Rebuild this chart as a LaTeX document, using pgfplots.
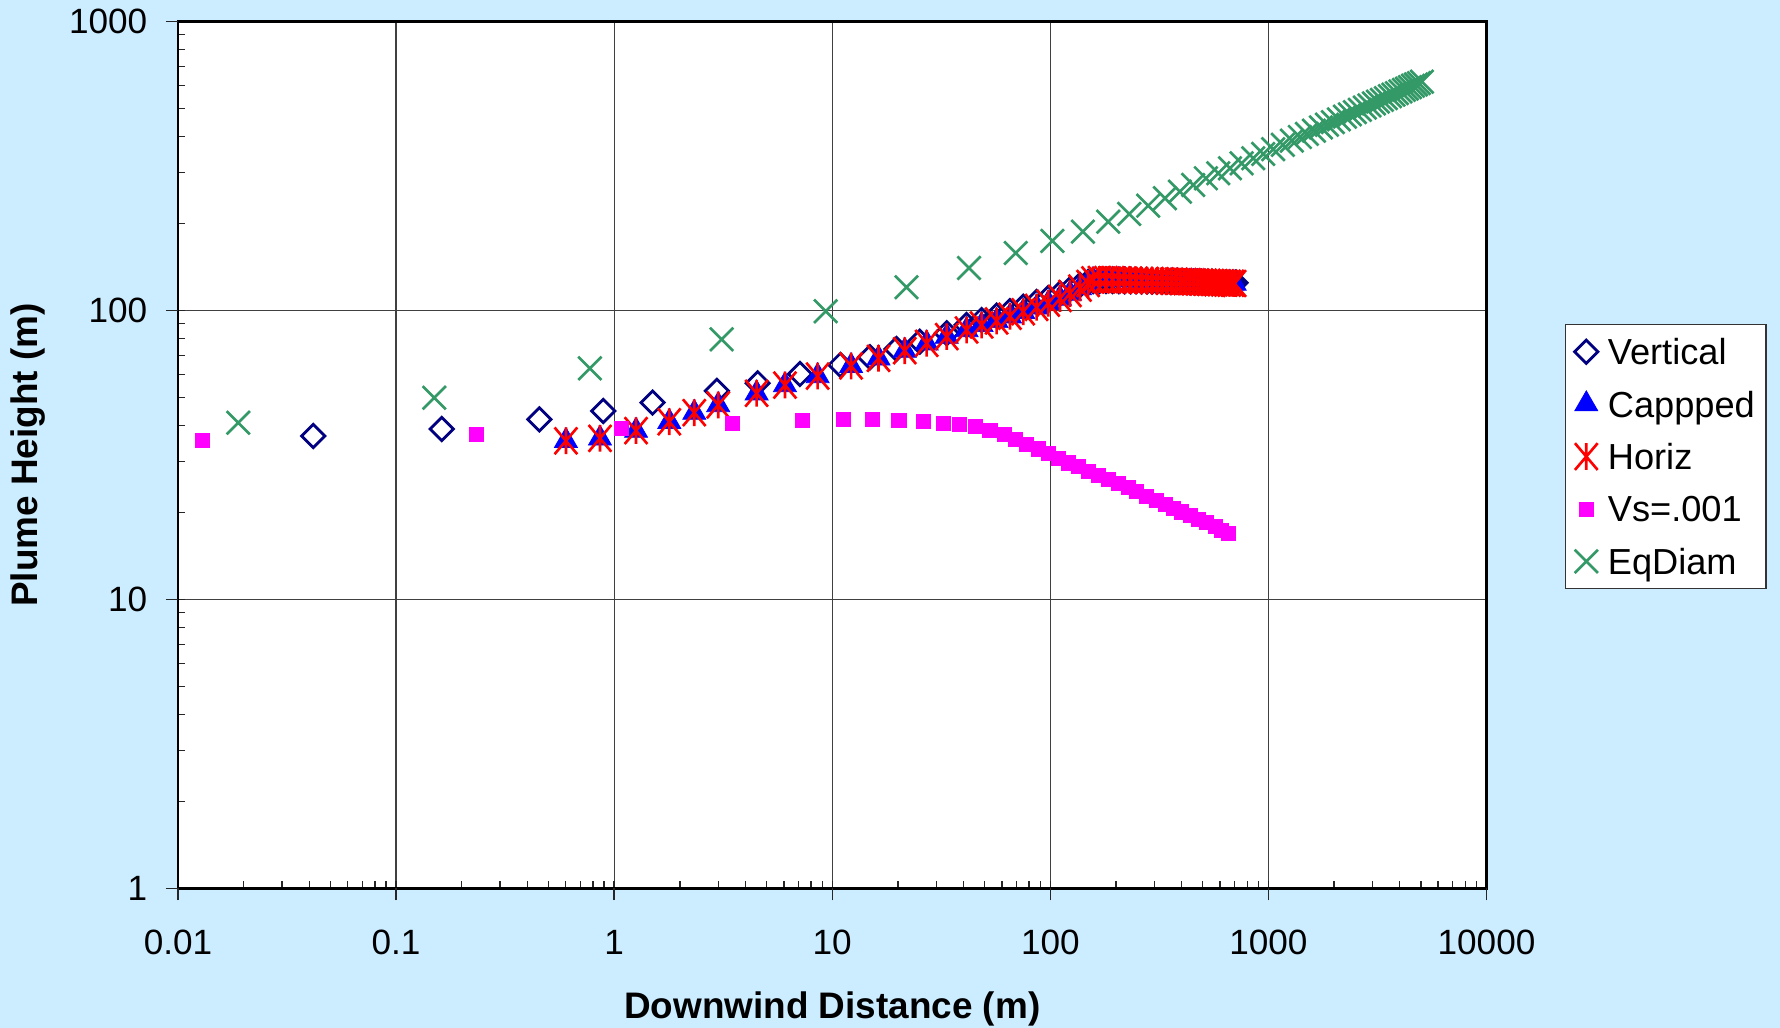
\documentclass[border=0pt]{standalone}
\usepackage{pgfplots}
\pgfplotsset{compat=1.18}
\usepackage{pgfplotstable}
\usepackage{fontspec}
\setmainfont{Liberation Sans}
\setsansfont{Liberation Sans}

\definecolor{bgblue}{HTML}{CCECFF}
\definecolor{vnavy}{HTML}{000080}
\definecolor{cblue}{HTML}{0000FF}
\definecolor{hred}{HTML}{FF0000}
\definecolor{vsmag}{HTML}{FF00FF}
\definecolor{eqgreen}{HTML}{339966}

% Excel-like markers
\pgfdeclareplotmark{xldiamond}{%
  \pgfpathmoveto{\pgfqpoint{0pt}{\pgfplotmarksize}}%
  \pgfpathlineto{\pgfqpoint{\pgfplotmarksize}{0pt}}%
  \pgfpathlineto{\pgfqpoint{0pt}{-\pgfplotmarksize}}%
  \pgfpathlineto{\pgfqpoint{-\pgfplotmarksize}{0pt}}%
  \pgfpathclose
  \pgfusepathqstroke}
\pgfdeclareplotmark{xlstar}{%
  \pgfpathmoveto{\pgfqpoint{0pt}{\pgfplotmarksize}}%
  \pgfpathlineto{\pgfqpoint{0pt}{-\pgfplotmarksize}}%
  \pgfpathmoveto{\pgfqpoint{-.85\pgfplotmarksize}{\pgfplotmarksize}}%
  \pgfpathlineto{\pgfqpoint{.85\pgfplotmarksize}{-\pgfplotmarksize}}%
  \pgfpathmoveto{\pgfqpoint{-.85\pgfplotmarksize}{-\pgfplotmarksize}}%
  \pgfpathlineto{\pgfqpoint{.85\pgfplotmarksize}{\pgfplotmarksize}}%
  \pgfusepathqstroke}
\pgfdeclareplotmark{xlx}{%
  \pgfpathmoveto{\pgfqpoint{-\pgfplotmarksize}{-\pgfplotmarksize}}%
  \pgfpathlineto{\pgfqpoint{\pgfplotmarksize}{\pgfplotmarksize}}%
  \pgfpathmoveto{\pgfqpoint{-\pgfplotmarksize}{\pgfplotmarksize}}%
  \pgfpathlineto{\pgfqpoint{\pgfplotmarksize}{-\pgfplotmarksize}}%
  \pgfusepathqstroke}

\pgfplotstableread{
x y
0.0417 36.8
0.162 38.9
0.454 42.0
0.891 44.9
1.50 48.0
2.96 52.7
4.55 56.0
7.11 60.3
10.9 64.8
14.9 68.9
19.7 73.6
25.2 78.0
33.5 83.4
41.3 89.1
48.4 92.7
56.7 96.0
65.3 99.5
75.1 103.0
86.5 107.0
97.8 110.5
110.7 114.5
123 118.5
136.7 122.5
149 125.5
157 126.3
168 126.5
180 126.5
193 126.4
206 126.3
219 126.2
233 126.2
247 126.1
262 126.0
278 126.0
293 125.9
309 125.8
326 125.8
343 125.7
360 125.6
378 125.6
397 125.5
415 125.5
434 125.4
453 125.4
473 125.3
493 125.3
513 125.2
533 125.2
554 125.1
575 125.1
596 125.0
617 125.0
639 124.9
661 124.9
684 124.8
707 124.8
}\vertical

\pgfplotstableread{
x y
0.601 35.4
0.861 36.1
1.26 38.4
1.79 41.2
2.33 44.3
3.00 47.1
4.50 51.7
6.07 55.2
8.57 59.3
12.2 64.3
16.3 68.3
21.5 72.6
27.1 77.0
33.5 81.2
41.3 85.6
48.4 89.1
56.7 92.0
65.3 95.5
75.1 99.0
86.5 102.5
97.8 106.0
110.7 110.0
123 114.5
136.7 119.5
149 124.0
157 127.6
168 128.0
180 127.9
193 127.8
206 127.6
219 127.5
233 127.4
247 127.2
262 127.1
278 127.0
293 126.8
309 126.7
326 126.6
343 126.4
360 126.3
378 126.2
397 126.0
415 125.9
434 125.8
453 125.6
473 125.5
493 125.4
513 125.2
533 125.1
554 125.0
575 124.8
596 124.7
617 124.6
639 124.4
661 124.3
684 124.2
700 124.0
}\capped

\pgfplotstableread{
x y
0.0129 35.6
0.234 37.3
1.082 39.1
3.48 40.7
7.29 41.6
11.2 42.0
15.2 42.0
20.2 41.8
26.1 41.4
32.2 40.8
38.1 40.4
45.1 39.6
52.8 38.5
61.3 37.2
69.3 35.8
77.9 34.5
88.0 33.2
98.2 32.1
108.7 30.8
120.8 29.7
134.3 28.8
149.2 27.8
165.9 26.9
184.4 26.1
204.8 25.2
227.6 24.4
248.7 23.7
276.4 22.8
307.2 22.1
335.4 21.4
366.0 20.7
400 20.1
436.5 19.6
476.6 19.0
520.8 18.5
568.6 17.9
610 17.4
654 17.0
}\vslow

\pgfplotstableread{
x y
0.0189 40.9
0.1497 49.9
0.774 63.1
3.11 79.5
9.33 99.4
21.9 120.3
42.4 140.3
69.4 158.1
102.2 174.0
141.1 187.4
184.4 202.9
230.1 215.8
281.1 230.5
335.4 244.5
392.8 257.7
452.0 271.8
516.9 286.7
588.7 298.4
666.1 310.5
753.8 323.1
851.8 336.3
946.5 348.0
1052 361.4
1165 374.5
1281 386.9
1394 398.4
1501 408.5
1617 419.0
1740 429.8
1855 439.2
1976 448.7
2105 458.4
2243 468.4
2364 477.0
2492 485.9
2627 494.7
2769 503.7
2904 512.2
3045 520.4
3177 527.9
3314 535.5
3457 543.2
3607 551.1
3742 558.1
3883 565.3
4029 572.6
4181 579.9
4316 586.0
4455 592.5
4598 599.2
4746 605.4
4898 612.2
5056 619.0
}\eqdiam

\begin{document}
\begin{tikzpicture}
\fill[bgblue] (0,0) rectangle (178mm,102.8mm);
\useasboundingbox (0,0) rectangle (178mm,102.8mm);
\begin{axis}[
  at={(17.8mm,13.95mm)}, anchor=south west,
  scale only axis, width=130.85mm, height=86.7mm,
  xmode=log, ymode=log,
  xmin=0.01, xmax=10000, ymin=1, ymax=1000,
  axis background/.style={fill=white},
  axis line style={black, line width=0.7pt},
  grid=major, major grid style={black!75, line width=0.35pt},
  tick pos=left, tick align=inside,
  major tick length=0.7mm, minor tick length=0.7mm,
  tick style={black!85, line width=0.4pt},
  xtick={0.01,0.1,1,10,100,1000,10000},
  xticklabels={0.01,0.1,1,10,100,1000,10000},
  minor xtick={0.02,0.03,0.04,0.05,0.06,0.07,0.08,0.09,
    0.2,0.3,0.4,0.5,0.6,0.7,0.8,0.9,2,3,4,5,6,7,8,9,
    20,30,40,50,60,70,80,90,200,300,400,500,600,700,800,900,
    2000,3000,4000,5000,6000,7000,8000,9000},
  ytick={1,10,100,1000},
  yticklabels={1,10,100,1000},
  minor ytick={2,3,4,5,6,7,8,9,20,30,40,50,60,70,80,90,
    200,300,400,500,600,700,800,900},
  extra x ticks={0.01,0.1,1,10,100,1000,10000},
  extra x tick labels={},
  extra y ticks={1,10,100,1000},
  extra y tick labels={},
  extra tick style={grid=none, tick align=outside, major tick length=1.2mm},
  tick label style={font=\fontsize{10}{12}\selectfont, black},
  xticklabel style={anchor=base, inner sep=0pt, yshift=-6.6mm},
  yticklabel style={anchor=east, inner sep=0pt, xshift=-3.0mm},
  xlabel={Downwind Distance (m)},
  ylabel={Plume Height (m)},
  label style={font=\fontsize{10.5}{12}\selectfont\bfseries},
  xlabel style={at={(axis description cs:0.5,-0.1497)}, anchor=base},
  ylabel style={at={(axis description cs:-0.1144,0.5)}, anchor=center, rotate=0},
  legend style={at={(1.06,0.651)}, anchor=north west,
    draw=black!80, line width=0.4pt, fill=white,
    font=\fontsize{10.3}{12}\selectfont,
    inner xsep=0.9mm, inner ysep=0.6mm,
    row sep=1.04mm,
    nodes={inner sep=0.2mm, text height=3.2mm, text depth=0.6mm}},
  legend cell align=left,
  legend image code/.code={\draw[#1] plot coordinates {(0mm,0mm)};},
]
\addplot[only marks, mark=xldiamond, mark size=3.3pt,
  mark options={draw=vnavy, line width=0.8pt, line join=miter}] table {\vertical};
\addlegendentry{\hspace{0.8mm}Vertical}
\addplot[only marks, mark=triangle*, mark size=3.8pt,
  mark options={draw=cblue, fill=cblue, line width=0.2pt}] table {\capped};
\addlegendentry{\hspace{0.8mm}Cappped}
\addplot[only marks, mark=xlstar, mark size=3.8pt,
  mark options={draw=hred, line width=0.75pt}] table {\capped};
\addlegendentry{\hspace{0.8mm}Horiz}
\addplot[only marks, mark=square*, mark size=2.0pt,
  mark options={draw=vsmag, fill=vsmag, line width=0.2pt}] table {\vslow};
\addlegendentry{\hspace{0.8mm}Vs=.001}
\addplot[only marks, mark=xlx, mark size=3.3pt,
  mark options={draw=eqgreen, line width=0.75pt}] table {\eqdiam};
\addlegendentry{\hspace{0.8mm}EqDiam}
\end{axis}
\end{tikzpicture}
\end{document}
